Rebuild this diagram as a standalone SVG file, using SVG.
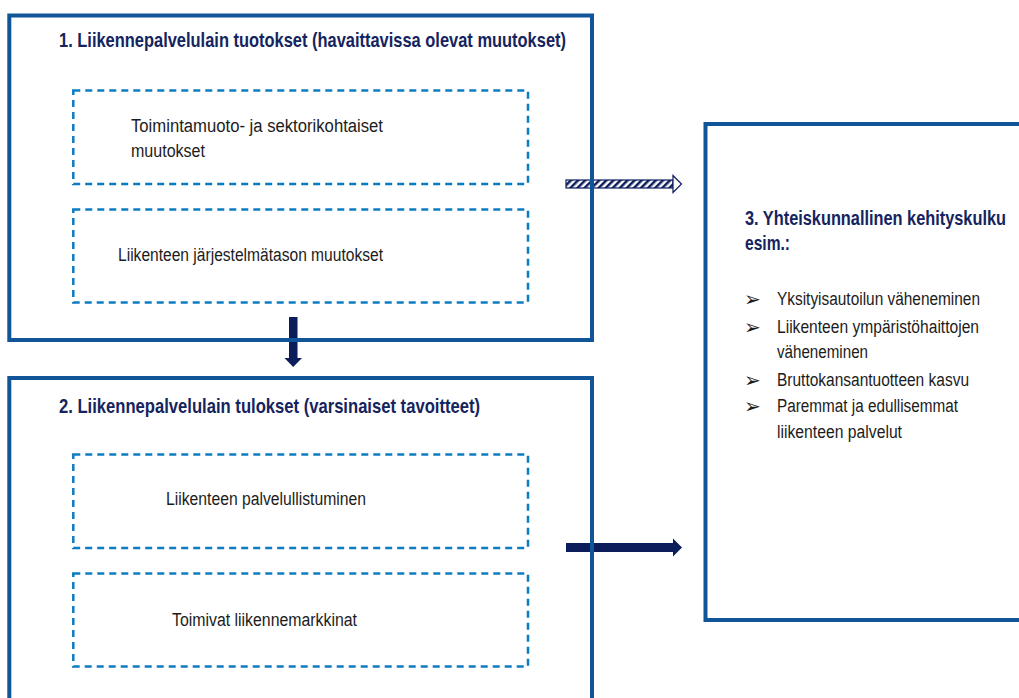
<svg xmlns="http://www.w3.org/2000/svg" width="1019" height="698" viewBox="0 0 1019 698">
<style>
.main{fill:none;stroke:#0f5597;stroke-width:4}
.dash{fill:none;stroke:#0b7cc3;stroke-width:2.5;stroke-dasharray:7 5}
.title{font-family:"Liberation Sans",Arial,sans-serif;font-weight:bold;font-size:20.5px;fill:#15245e}
.body{font-family:"Liberation Sans",Arial,sans-serif;font-size:18px;fill:#1c1c1c}
.bul{font-family:"DejaVu Sans",sans-serif;font-size:20px;fill:#1c1c1c}
.arr{fill:#0c1d5c}
</style>
<defs>
<pattern id="hatch" width="5" height="5" patternUnits="userSpaceOnUse" patternTransform="rotate(45)">
<rect width="5" height="5" fill="#ffffff"/>
<rect width="2.5" height="5" fill="#0c1d5c"/>
</pattern>
</defs>
<rect width="1019" height="698" fill="#ffffff"/>
<g id="connectors">
<g id="arrow-hatched">
<rect x="566" y="180" width="107" height="8" fill="url(#hatch)" stroke="#0c1d5c" stroke-width="1.2"/>
<polygon points="673,175.5 681.5,184 673,192.5 673,188 673,180" fill="#ffffff" stroke="#0c1d5c" stroke-width="1.2"/>
</g>
<g id="arrow-solid">
<rect class="arr" x="566" y="543" width="108" height="9"/>
<polygon class="arr" points="673,538.5 682,547.5 673,556.5"/>
</g>
<g id="arrow-down">
<rect class="arr" x="289" y="317" width="8.5" height="42"/>
<polygon class="arr" points="284.5,358 302,358 293.2,367"/>
</g>
</g>
<g id="box1">
<rect class="main" x="9.3" y="15.5" width="582.7" height="324.5"/>
<text class="title" x="59" y="47" textLength="507" lengthAdjust="spacingAndGlyphs">1. Liikennepalvelulain tuotokset (havaittavissa olevat muutokset)</text>
</g>
<g id="box1a">
<rect class="dash" x="73.3" y="90.5" width="454.7" height="93.5"/>
<text class="body" x="131" y="132" textLength="252" lengthAdjust="spacingAndGlyphs">Toimintamuoto- ja sektorikohtaiset</text>
<text class="body" x="131" y="157" textLength="74" lengthAdjust="spacingAndGlyphs">muutokset</text>
</g>
<g id="box1b">
<rect class="dash" x="73.3" y="209.5" width="454.7" height="93"/>
<text class="body" x="118" y="261" textLength="265" lengthAdjust="spacingAndGlyphs">Liikenteen järjestelmätason muutokset</text>
</g>
<g id="box2">
<rect class="main" x="9.3" y="378" width="582.7" height="340"/>
<text class="title" x="59" y="413" textLength="421" lengthAdjust="spacingAndGlyphs">2. Liikennepalvelulain tulokset (varsinaiset tavoitteet)</text>
</g>
<g id="box2a">
<rect class="dash" x="73.3" y="454.5" width="454.7" height="93.5"/>
<text class="body" x="166" y="505" textLength="200" lengthAdjust="spacingAndGlyphs">Liikenteen palvelullistuminen</text>
</g>
<g id="box2b">
<rect class="dash" x="73.3" y="573.5" width="454.7" height="93"/>
<text class="body" x="172" y="626" textLength="185" lengthAdjust="spacingAndGlyphs">Toimivat liikennemarkkinat</text>
</g>
<g id="box3">
<rect class="main" x="705.5" y="124" width="340" height="496"/>
<text class="title" transform="translate(745,225) scale(0.65,1)" x="0" y="0" textLength="401.5" lengthAdjust="spacingAndGlyphs">3. Yhteiskunnallinen kehityskulku</text>
<text class="title" x="745" y="250" textLength="45" lengthAdjust="spacingAndGlyphs">esim.:</text>
<text class="bul" x="744" y="306">➢</text>
<text class="bul" x="744" y="334">➢</text>
<text class="bul" x="744" y="387">➢</text>
<text class="bul" x="744" y="413">➢</text>
<text class="body" x="777" y="305" textLength="203" lengthAdjust="spacingAndGlyphs">Yksityisautoilun väheneminen</text>
<text class="body" x="777" y="333" textLength="202" lengthAdjust="spacingAndGlyphs">Liikenteen ympäristöhaittojen</text>
<text class="body" x="777" y="358" textLength="91" lengthAdjust="spacingAndGlyphs">väheneminen</text>
<text class="body" x="777" y="386" textLength="192" lengthAdjust="spacingAndGlyphs">Bruttokansantuotteen kasvu</text>
<text class="body" x="777" y="412" textLength="181" lengthAdjust="spacingAndGlyphs">Paremmat ja edullisemmat</text>
<text class="body" x="777" y="438" textLength="125" lengthAdjust="spacingAndGlyphs">liikenteen palvelut</text>
</g>
</svg>
